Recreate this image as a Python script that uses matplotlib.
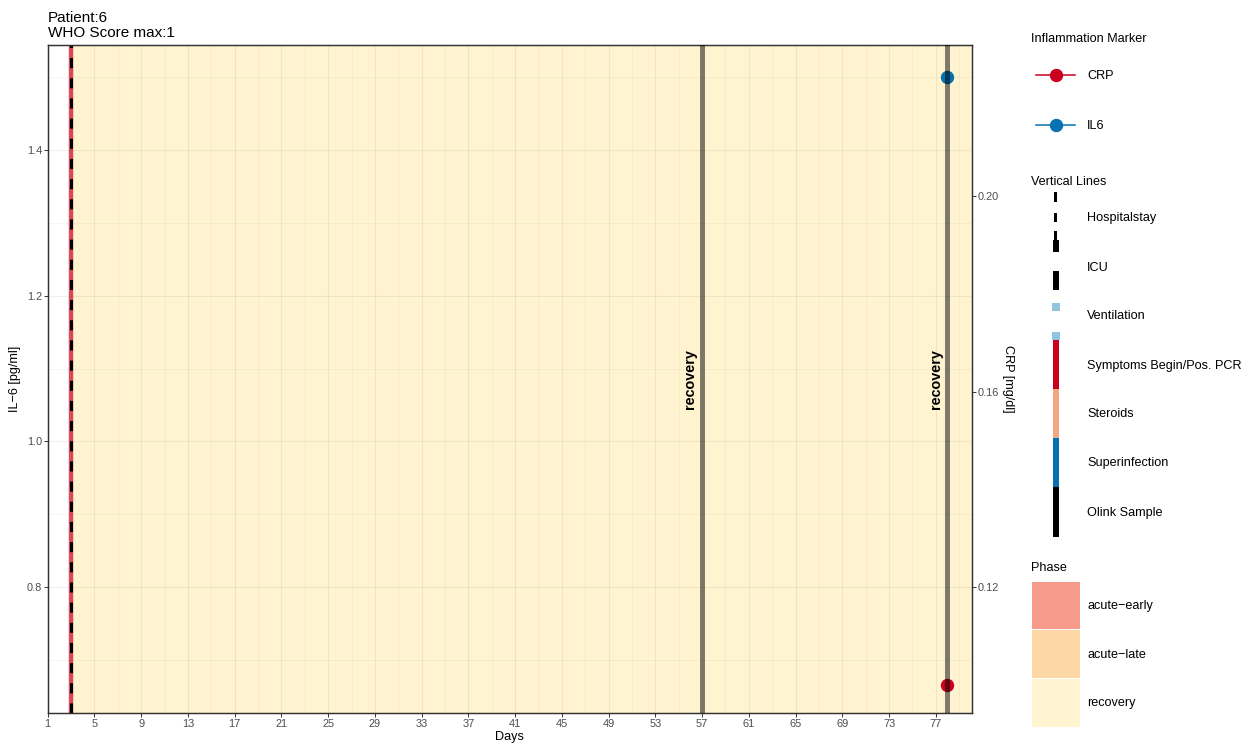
import numpy as np
import matplotlib
matplotlib.use("Agg")
import matplotlib.pyplot as plt
from matplotlib.patches import Rectangle
from matplotlib.transforms import offset_copy

plt.rcParams['font.family'] = ['Liberation Sans', 'DejaVu Sans']

# ---------------- data ----------------
patient = "6"
who_max = "1"
il6_days = [78]
il6_values = [1.5]
crp_days = [78]
crp_values = [0.10]
symptoms_days = [3]
hospital_days = [3]
phase_names = ["recovery"]
phase_start = [3]
phase_end = [81]
phase_line_days = [57, 78]
phase_line_labels = ["recovery", "recovery"]
x_ticks = list(range(1, 78, 4))
il6_ticks = [0.8, 1.0, 1.2, 1.4]
crp_ticks = [0.12, 0.16, 0.20]
legend_phase = ["acute\u2212early", "acute\u2212late", "recovery"]
legend_lines = ["Hospitalstay", "ICU", "Ventilation", "Symptoms Begin/Pos. PCR",
                "Steroids", "Superinfection", "Olink Sample"]
legend_markers = ["CRP", "IL6"]

C_CRP = "#CA0020"
C_IL6 = "#0571B0"
C_STER = "#F4A582"
C_VENT = "#92C5DE"
PHASE_COL = {"acute\u2212early": "#F69B8B", "acute\u2212late": "#FDD8A6", "recovery": "#FFF4CF"}

W, H = 1252, 749
fig = plt.figure(figsize=(W / 100, H / 100), dpi=100)
ax = fig.add_axes([47.7 / W, 1 - 713 / H, (972 - 47.7) / W, (713 - 45) / H])
ax2 = ax.twinx()

xlim = (1, 80.1)
ylim = (0.627, 1.5442)
ylim2 = (0.09422, 0.2309)
ax.set_xlim(*xlim)
ax.set_ylim(*ylim)
ax2.set_ylim(*ylim2)

# phase background
for name, s, e in zip(phase_names, phase_start, phase_end):
    ax.axvspan(s, e, color=PHASE_COL[name], lw=0, zorder=0.5)

# grid (drawn translucent over the background)
gcol = (0, 0, 0, 0.06)
for xv in np.arange(1, 81, 2):
    ax.axvline(xv, color=gcol, lw=0.8 if (xv - 1) % 4 == 0 else 0.45, zorder=1)
for yv in np.arange(0.7, 1.55, 0.1):
    ax.axhline(yv, color=gcol, lw=0.8 if round(yv * 10) % 2 == 0 else 0.45, zorder=1)

# symptoms / hospital lines
for d in symptoms_days:
    ax.axvline(d, color=C_CRP, alpha=0.7, lw=3.2, zorder=2)
for d in hospital_days:
    ax.axvline(d, color="black", lw=2.2, dashes=(3.3, 3.3), zorder=3)

# points
ax.plot(il6_days, il6_values, 'o', color=C_IL6, ms=8.6, zorder=4)
ax2.plot(crp_days, crp_values, 'o', color=C_CRP, ms=8.6, zorder=4)

# phase lines and labels
ymid = np.mean(ylim)
for d, lab in zip(phase_line_days, phase_line_labels):
    ax2.axvline(d, color="black", alpha=0.5, lw=3.6, zorder=5)
    tr = offset_copy(ax.transData, fig=fig, x=-3.5, y=0, units='points')
    ax2.text(d, ymid, lab, transform=tr, rotation=90, ha='right', va='center',
             fontsize=10.4, fontweight='bold', color='black', zorder=6)

ax.patch.set_visible(False)
ax2.patch.set_visible(False)
ax.set_zorder(1)
ax2.set_zorder(2)

# ticks
ax.set_xticks(x_ticks)
ax.set_yticks(il6_ticks)
ax.set_yticklabels([f"{v:.1f}" for v in il6_ticks])
ax2.set_yticks(crp_ticks)
ax2.set_yticklabels([f"{v:.2f}" for v in crp_ticks])
for a in (ax, ax2):
    a.tick_params(axis='both', which='major', length=2.6, width=0.7, color="#333333",
                  labelsize=7.9, labelcolor="#4D4D4D", pad=1.5)
    for sp in a.spines.values():
        sp.set_color("#333333")
        sp.set_linewidth(0.9)

ax.set_xlabel("Days", fontsize=9.1, labelpad=2, color="black")
ax.set_ylabel("IL\u22126 [pg/ml]", fontsize=9.1, labelpad=4, color="black")
ax2.set_ylabel("CRP [mg/dl]", fontsize=9.1, rotation=-90, labelpad=11, color="black")

# title
fig.text(47.7 / W, 1 - 40 / H, f"Patient:{patient}\nWHO Score max:{who_max}",
         ha='left', va='bottom', fontsize=11, linespacing=1.05, color="black")

# ---------------- legends (pixel overlay) ----------------
lax = fig.add_axes([0, 0, 1, 1])
lax.set_xlim(0, W)
lax.set_ylim(H, 0)
lax.axis('off')
lax.set_zorder(10)
fs = 9.1
tcol = "black"

lax.text(1031, 39, "Inflammation Marker", fontsize=fs, va='center', ha='left', color=tcol)
for lab, col, yy in zip(legend_markers, [C_CRP, C_IL6], [75, 125]):
    lax.plot([1036, 1075], [yy, yy], color=col, lw=1.1)
    lax.plot([1055.5], [yy], 'o', color=col, ms=8.6)
    lax.text(1087, yy + 1, lab, fontsize=fs, va='center', ha='left', color=tcol)

lax.text(1031, 182, "Vertical Lines", fontsize=fs, va='center', ha='left', color=tcol)
key_y = [217, 267, 315, 365, 413, 462, 512]
for lab, yy in zip(legend_lines, key_y):
    lax.text(1087, yy + 1, lab, fontsize=fs, va='center', ha='left', color=tcol)

def seg(x0, x1, y0, y1, col):
    lax.add_patch(Rectangle((x0, y0), x1 - x0, y1 - y0, color=col, lw=0))

# Hospitalstay (thin dashed)
for y0, y1 in [(192, 202), (213, 222), (231, 242)]:
    seg(1054.3, 1057.3, y0, y1, "black")
# ICU (thick dashed)
for y0, y1 in [(240, 252), (271, 290)]:
    seg(1053.3, 1059, y0, y1, "black")
# Ventilation (dotted)
for y0, y1 in [(303, 311), (332, 340)]:
    seg(1052, 1060, y0, y1, C_VENT)
# solid lines
for col, (y0, y1) in zip([C_CRP, C_STER, C_IL6, "black"],
                         [(340, 389), (389, 438), (438, 487), (487, 537)]):
    seg(1053.3, 1059, y0, y1, col)

lax.text(1031, 568, "Phase", fontsize=fs, va='center', ha='left', color=tcol)
for i, lab in enumerate(legend_phase):
    y0 = 581 + i * 48.7
    seg(1032, 1080, y0 + 0.5, y0 + 48.2, PHASE_COL[lab])
    lax.text(1087, y0 + 25, lab, fontsize=fs, va='center', ha='left', color=tcol)

fig.savefig("out.png", dpi=100)
